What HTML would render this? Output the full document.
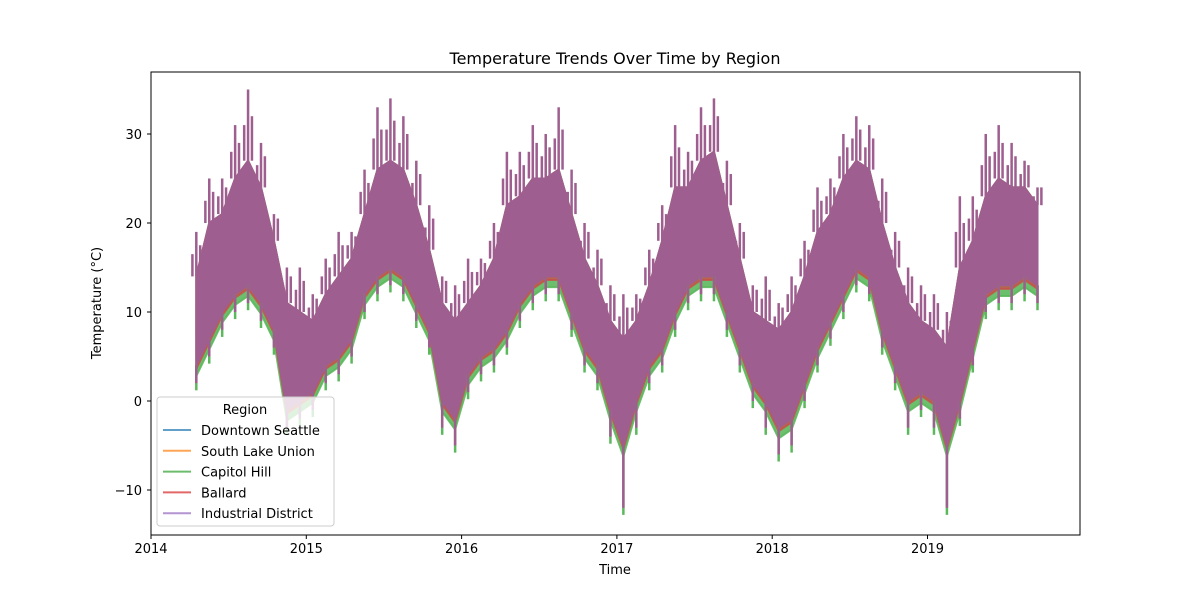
<!DOCTYPE html>
<html><head><meta charset="utf-8"><style>
body{margin:0;background:#fff;font-family:"Liberation Sans","DejaVu Sans",sans-serif}
svg text{font-family:"DejaVu Sans","Liberation Sans",sans-serif;fill:#000}
</style></head><body>
<svg id="chart" width="1200" height="600" viewBox="0 0 1200 600" xmlns="http://www.w3.org/2000/svg">
<rect width="1200" height="600" fill="#fff"/>
<text x="615" y="64" font-size="16" text-anchor="middle">Temperature Trends Over Time by Region</text>
<g id="marks"></g>
<rect x="151" y="72" width="929" height="463" fill="none" stroke="#000" stroke-width="1"/>
<g id="axes"></g>
<text x="615" y="574" font-size="13" text-anchor="middle">Time</text>
<text transform="translate(101,303) rotate(-90)" font-size="13" text-anchor="middle">Temperature (°C)</text>
<g>
<rect x="157" y="397" width="177" height="129" rx="3" fill="#fff" fill-opacity="0.8" stroke="#ccc"/>
<text x="245" y="414" font-size="13" text-anchor="middle">Region</text>
<g id="legend-items"></g>
</g>
</svg>
<script>
const months=["2014-04","2014-05","2014-06","2014-07","2014-08","2014-09","2014-10","2014-11","2014-12",
"2015-01","2015-02","2015-03","2015-04","2015-05","2015-06","2015-07","2015-08","2015-09","2015-10","2015-11","2015-12",
"2016-01","2016-02","2016-03","2016-04","2016-05","2016-06","2016-07","2016-08","2016-09","2016-10","2016-11","2016-12",
"2017-01","2017-02","2017-03","2017-04","2017-05","2017-06","2017-07","2017-08","2017-09","2017-10","2017-11","2017-12",
"2018-01","2018-02","2018-03","2018-04","2018-05","2018-06","2018-07","2018-08","2018-09","2018-10","2018-11","2018-12",
"2019-01","2019-02","2019-03","2019-04","2019-05","2019-06","2019-07","2019-08","2019-09"];
const tempMax=[19,25,25,31,35,29,21,15,15, 12,16,19,19,26,33,34,32,27,22,14,13, 16,16,20,28,28,31,30,33,26,20,17,13, 12,12,17,22,31,28,33,34,27,20,13,14, 11,14,18,24,25,30,32,31,25,19,15,13, 12,10,23,23,30,31,29,27,24];
const tempMin=[2,5,8,10,11,9,6,-3,-2, -1,2,3,5,10,12,13,12,9,6,-3,-5, 1,3,4,6,9,11,12,12,8,4,2,-4, -12,-3,2,4,8,11,12,12,8,4,0,-3, -6,-5,0,4,7,10,13,12,6,2,-3,-1, -3,-12,-2,4,10,11,11,12,11];
const bandHi=[14,20,21,25,27,24,18,11,10, 9,12,14,16,21,26,27,26,22,17,11,9, 11,13,16,22,23,25,25,26,21,16,13,9, 7,9,13,18,24,24,27,28,22,16,10,9, 8,10,14,19,21,25,27,26,20,15,11,9, 8,6,15,18,23,25,24,24,22];
const bandLo=[4,7,10,12,13,11,8,-1,0, 1,4,5,7,12,14,15,14,11,8,0,-2, 3,5,6,8,11,13,14,14,10,6,4,-1, -5,0,4,6,10,13,14,14,10,6,2,0, -3,-2,2,6,9,12,15,14,8,4,0,1, 0,-5,0,6,12,13,13,14,13];
const regions=["Downtown Seattle","South Lake Union","Capitol Hill","Ballard","Industrial District"];
const colors=["#1f77b4","#ff7f0e","#2ca02c","#d62728","#9467bd"];
const xTicks=[2014,2015,2016,2017,2018,2019];
const yTicks=[-10,0,10,20,30];

const X0=151,PX=155.3,Y0=401,PY=8.9;
const xs=t=>X0+(t-2014)*PX, ys=v=>Y0-v*PY;
const tOf=s=>{const [y,m]=s.split("-").map(Number);return y+(m-0.5)/12;};
const NS="http://www.w3.org/2000/svg";
const marks=document.getElementById("marks"),axes=document.getElementById("axes");
const PURPLE="#9e5e8f";
function band(offLo,color,op,name){
  let pts=months.map((m,i)=>xs(tOf(m))+","+ys(bandHi[i]));
  for(let i=months.length-1;i>=0;i--)pts.push(xs(tOf(months[i]))+","+ys(bandLo[i]-offLo));
  const p=document.createElementNS(NS,"polygon");
  p.setAttribute("points",pts.join(" "));
  p.setAttribute("fill",color);p.setAttribute("fill-opacity",op);
  p.setAttribute("stroke",color);p.setAttribute("stroke-opacity",op);p.setAttribute("stroke-width","2");
  
  
  marks.appendChild(p);
}
band(1.2,"#5cb85c",0.9,"capitol-hill-series");
band(0.4,"#c8504a",0.8,"ballard-series");
band(0,PURPLE,1,"industrial-district-series");
function spike(t,a,b,color,name){
  const l=document.createElementNS(NS,"line");
  l.setAttribute("x1",xs(t));l.setAttribute("x2",xs(t));l.setAttribute("y1",ys(a));l.setAttribute("y2",ys(b));
  l.setAttribute("stroke",color);l.setAttribute("stroke-width","2.5");
  
  
  marks.appendChild(l);
}
months.forEach((m,i)=>{
  const t=tOf(m);
  spike(t,bandHi[i],tempMax[i],PURPLE,"max-spike");
  spike(t+0.025,bandHi[i],(bandHi[i]+tempMax[i])/2+1,PURPLE,"max-spike");
  spike(t-0.025,bandHi[i],(bandHi[i]+tempMax[i])/2,PURPLE,"max-spike");
  spike(t,bandLo[i],tempMin[i]-0.8,"#5cb85c","min-spike");
  spike(t,bandLo[i],tempMin[i],PURPLE,"min-spike");
});
xTicks.forEach(t=>{
  const l=document.createElementNS(NS,"line");
  l.setAttribute("x1",xs(t));l.setAttribute("x2",xs(t));l.setAttribute("y1",535);l.setAttribute("y2",539);l.setAttribute("stroke","#000");
  
  
  axes.appendChild(l);
  const tx=document.createElementNS(NS,"text");
  tx.setAttribute("x",xs(t));tx.setAttribute("y",553);tx.setAttribute("font-size","13");tx.setAttribute("text-anchor","middle");tx.textContent=t;
  
  
  axes.appendChild(tx);
});
yTicks.forEach(v=>{
  const l=document.createElementNS(NS,"line");
  l.setAttribute("x1",147);l.setAttribute("x2",151);l.setAttribute("y1",ys(v));l.setAttribute("y2",ys(v));l.setAttribute("stroke","#000");
  
  
  axes.appendChild(l);
  const tx=document.createElementNS(NS,"text");
  tx.setAttribute("x",142);tx.setAttribute("y",ys(v)+5);tx.setAttribute("font-size","13");tx.setAttribute("text-anchor","end");tx.textContent=v<0?"\u2212"+(-v):v;
  
  
  axes.appendChild(tx);
});
const li=document.getElementById("legend-items");
regions.forEach((r,i)=>{
  const y=430+i*20.8;
  const l=document.createElementNS(NS,"line");
  l.setAttribute("x1",163);l.setAttribute("x2",191);l.setAttribute("y1",y);l.setAttribute("y2",y);l.setAttribute("stroke",colors[i]);l.setAttribute("stroke-width","2");l.setAttribute("stroke-opacity","0.7");
  
  
  li.appendChild(l);
  const tx=document.createElementNS(NS,"text");
  tx.setAttribute("x",201);tx.setAttribute("y",y+5);tx.setAttribute("font-size","13");tx.textContent=r;
  
  
  li.appendChild(tx);
});
</script>
</body></html>
